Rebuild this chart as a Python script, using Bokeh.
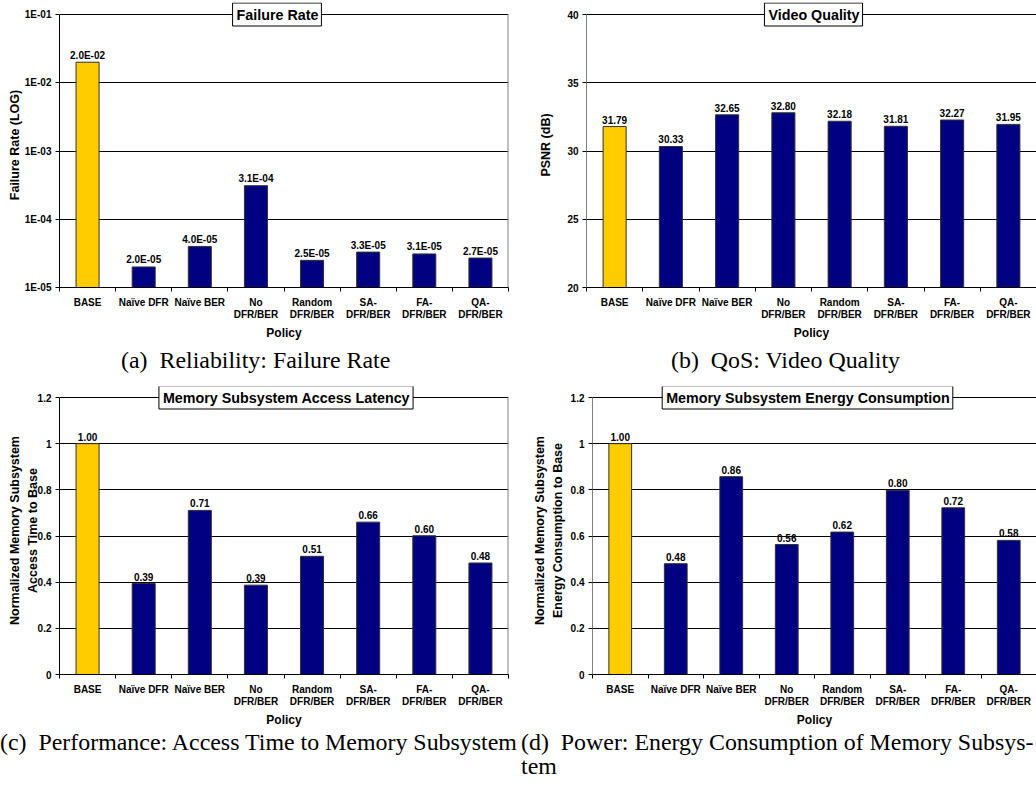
import math
from bokeh.plotting import figure
from bokeh.models import Range1d, FixedTicker, CustomJSTickFormatter, Label, Div
from bokeh.layouts import column, row
from bokeh.embed import file_html
from bokeh.resources import INLINE
from bokeh.core.properties import value

# ---------------- data ----------------
policies = ["BASE", "Naïve DFR", "Naïve BER", "No\nDFR/BER", "Random\nDFR/BER",
            "SA-\nDFR/BER", "FA-\nDFR/BER", "QA-\nDFR/BER"]
failure_rate = [2.0e-2, 2.0e-5, 4.0e-5, 3.1e-4, 2.5e-5, 3.3e-5, 3.1e-5, 2.7e-5]
psnr = [31.79, 30.33, 32.65, 32.80, 32.18, 31.81, 32.27, 31.95]
latency = [1.00, 0.394, 0.711, 0.387, 0.512, 0.660, 0.601, 0.483]
energy = [1.00, 0.480, 0.857, 0.563, 0.617, 0.798, 0.722, 0.581]

failure_ticks = [1e-5, 1e-4, 1e-3, 1e-2, 1e-1]
psnr_ticks = [20, 25, 30, 35, 40]
norm_ticks = [0, 0.2, 0.4, 0.6, 0.8, 1.0, 1.2]

titles = ["Failure Rate", "Video Quality", "Memory Subsystem Access Latency",
          "Memory Subsystem Energy Consumption"]
ylabels = ["Failure Rate (LOG)", "PSNR (dB)",
           "Normalized Memory Subsystem\nAccess Time to Base",
           "Normalized Memory Subsystem\nEnergy Consumption to Base"]
xlabel = "Policy"
captions = ["(a)&nbsp; Reliability: Failure Rate",
            "(b)&nbsp; QoS: Video Quality",
            "(c)&nbsp; Performance: Access Time to Memory Subsystem",
            "(d)&nbsp; Power: Energy Consumption of Memory Subsys-<br>tem"]

FONT = "Liberation Sans"
GOLD = "#FFCC00"
NAVY = "#000080"

LOG_FMT = ("const e = Math.round(Math.log10(tick));"
           "return '1E' + (e < 0 ? '-' : '+') + String(Math.abs(e)).padStart(2, '0');")
LIN_FMT = "return String(Number(tick.toFixed(2)));"


def make_panel(vals, texts, ticks, log, title, ylabel, ylab_standoff, title_dx,
               fw, fh, bl, bt, br, bb, ext_px, left_axis_color, right_edge):
    n = len(policies)
    xs = [i + 0.5 for i in range(n)]
    span_px = fh - ext_px
    if log:
        lo, hi = math.log10(ticks[0]), math.log10(ticks[-1])
        y_end = 10 ** (hi + (hi - lo) * ext_px / span_px)
    else:
        y_end = ticks[-1] + (ticks[-1] - ticks[0]) * ext_px / span_px
    p = figure(width=bl + fw + br, height=bt + fh + bb,
               x_range=Range1d(0, n), y_range=Range1d(ticks[0], y_end),
               y_axis_type="log" if log else "linear",
               output_backend="svg", toolbar_location=None,
               min_border_left=bl, min_border_right=br,
               min_border_top=bt, min_border_bottom=bb,
               background_fill_color="white", border_fill_color="white")
    p.outline_line_color = None
    colors = [GOLD] + [NAVY] * (n - 1)
    p.vbar(x=xs, top=vals, bottom=ticks[0], width=0.41, fill_color=colors,
           line_color="#303030", line_width=1)
    p.text(x=xs, y=vals, text=texts, text_align="center", text_baseline="alphabetic",
           y_offset=-7, text_font=value(FONT), text_font_style="bold",
           text_font_size="10px", text_color="black")
    if right_edge:
        p.segment(x0=[n], y0=[ticks[0]], x1=[n], y1=[ticks[-1]],
                  line_color="#808080", line_width=2)

    # x axis
    xa = p.xaxis[0]
    xa.ticker = FixedTicker(ticks=xs, minor_ticks=list(range(n + 1)))
    xa.formatter = CustomJSTickFormatter(args=dict(labels=policies),
                                         code="return labels[Math.floor(tick)];")
    xa.major_tick_line_color = None
    xa.major_tick_in = 0
    xa.major_tick_out = 0
    xa.minor_tick_in = 0
    xa.minor_tick_out = 4
    xa.minor_tick_line_color = "black"
    xa.axis_line_color = "black"
    xa.major_label_standoff = 5
    xa.major_label_text_font = FONT
    xa.major_label_text_font_style = "bold"
    xa.major_label_text_font_size = "10px"
    xa.major_label_text_line_height = 1.15
    xa.major_label_text_color = "black"
    xa.axis_label = xlabel
    xa.axis_label_standoff = 3
    xa.axis_label_text_font = FONT
    xa.axis_label_text_font_style = "bold"
    xa.axis_label_text_font_size = "12px"
    xa.axis_label_text_color = "black"

    # y axis
    ya = p.yaxis[0]
    ya.ticker = FixedTicker(ticks=ticks)
    ya.formatter = CustomJSTickFormatter(code=LOG_FMT if log else LIN_FMT)
    ya.bounds = (ticks[0], ticks[-1])
    ya.major_tick_in = 0
    ya.major_tick_out = 4
    ya.major_tick_line_color = "black"
    ya.minor_tick_line_color = None
    ya.axis_line_color = left_axis_color
    ya.major_label_standoff = 4
    ya.major_label_text_font = FONT
    ya.major_label_text_font_style = "bold"
    ya.major_label_text_font_size = "10px"
    ya.major_label_text_color = "black"
    ya.axis_label = ylabel
    ya.axis_label_standoff = ylab_standoff
    ya.axis_label_text_font = FONT
    ya.axis_label_text_font_style = "bold"
    ya.axis_label_text_font_size = "12.5px"
    ya.axis_label_text_line_height = 1.25
    ya.axis_label_text_color = "black"

    p.xgrid.visible = False
    p.ygrid.grid_line_color = "black"
    p.ygrid.grid_line_width = 1

    # boxed chart title, centred on the top gridline
    p.add_layout(Label(x=n / 2, y=ticks[-1], x_units="data", y_units="data", x_offset=title_dx,
                       text=title, text_align="center", text_baseline="middle",
                       text_font=FONT, text_font_style="bold", text_font_size="14.3px",
                       text_color="black", background_fill_color="white",
                       border_line_color="black", border_line_width=1,
                       padding=(4, 3, 4, 3)))
    return p


fail_txt = [f"{v:.1E}" for v in failure_rate]
psnr_txt = [f"{v:.2f}" for v in psnr]
lat_txt = [f"{v:.2f}" for v in latency]
en_txt = [f"{v:.2f}" for v in energy]

pa = make_panel(failure_rate, fail_txt, failure_ticks, True, titles[0], ylabels[0], 0, -7,
                449, 285, 59, 2, 22, 57, 12, "black", True)
pb = make_panel(psnr, psnr_txt, psnr_ticks, False, titles[1], ylabels[1], 11, 2,
                450, 285, 56, 2, 0, 57, 12, "#808080", False)
pc = make_panel(latency, lat_txt, norm_ticks, False, titles[2], ylabels[2], -5, 2,
                449, 288, 59, 6, 22, 56, 11, "black", True)
pd = make_panel(energy, en_txt, norm_ticks, False, titles[3], ylabels[3], 3, -7,
                449, 288, 57, 6, 0, 56, 11, "#808080", False)

CAP = ("font-family:'Liberation Serif','Times New Roman',serif;font-size:23.9px;"
       "line-height:24px;color:#000;white-space:nowrap;")

da = Div(text=f'<div style="{CAP}padding-top:4px;padding-left:121px">{captions[0]}</div>',
         width=530, height=36, margin=0)
db = Div(text=f'<div style="{CAP}padding-top:4px;padding-left:141px">{captions[1]}</div>',
         width=506, height=36, margin=0)
dc = Div(text=f'<div style="{CAP}padding-top:0px;padding-left:0px">{captions[2]}</div>',
         width=521, height=56, margin=0)
dd = Div(text=f'<div style="{CAP}padding-top:0px;padding-left:0px;width:515px;overflow:hidden">{captions[3]}</div>',
         width=515, height=56, margin=0)

layout = column(row(pa, pb), row(da, db), row(pc, pd), row(dc, dd))

open("out.html", "w").write(file_html(layout, INLINE))
